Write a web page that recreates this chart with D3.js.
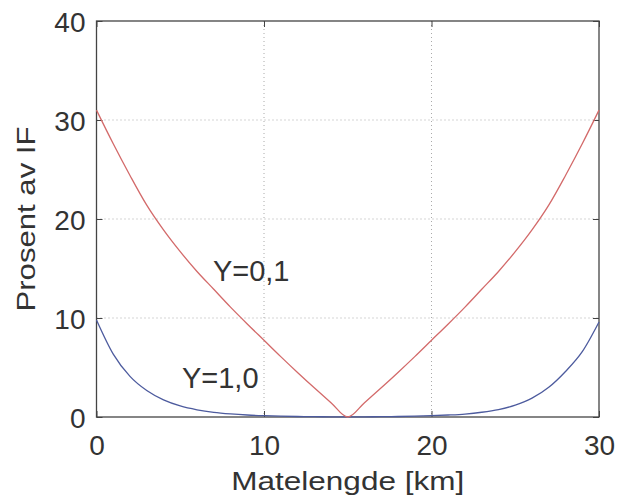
<!DOCTYPE html>
<html>
<head>
<meta charset="utf-8">
<script src="https://cdn.jsdelivr.net/npm/d3@7"></script>
<style>
  body { margin: 0; background: #fff; }
  text { font-family: "Liberation Sans", Arial, sans-serif; fill: #333; }
</style>
</head>
<body>
<div id="chart"></div>
<script>
// distance along the feeder, km
var km = [0, 1, 2, 3, 4, 5, 6, 7, 8, 9, 10, 11, 12, 13, 14, 15,
          16, 17, 18, 19, 20, 21, 22, 23, 24, 25, 26, 27, 28, 29, 30];
// Y=0,1 (red)
var pctY01 = [31, 27.6, 24.4, 21.4, 18.9, 16.7, 14.7, 12.9, 11.1, 9.4, 7.75, 6.1, 4.5, 2.95, 1.45, 0,
              1.45, 2.95, 4.5, 6.1, 7.75, 9.4, 11.1, 12.9, 14.7, 16.7, 18.9, 21.4, 24.4, 27.6, 31];
// Y=1,0 (blue)
var pctY10 = [9.8, 6.35, 4.1, 2.67, 1.73, 1.12, 0.73, 0.47, 0.31, 0.2, 0.13, 0.08, 0.05, 0.03, 0.02, 0.01,
              0.02, 0.03, 0.05, 0.08, 0.13, 0.2, 0.3, 0.48, 0.75, 1.2, 1.9, 3.0, 4.6, 6.6, 9.6];
var xTicks = [0, 10, 20, 30],
    yTicks = [0, 10, 20, 30, 40];
var labels = [
    { text: "Y=0,1", x: 6.95, y: 13.7 },
    { text: "Y=1,0", x: 5.1, y: 2.9 }
];

var W = 633, H = 504,
    margin = { top: 21, right: 34, bottom: 87, left: 96.5 },
    width = W - margin.left - margin.right,
    height = H - margin.top - margin.bottom;

var svg = d3.select("#chart").append("svg")
    .attr("width", W)
    .attr("height", H)
    .append("g")
    .attr("transform", "translate(" + margin.left + "," + margin.top + ")");

var x = d3.scaleLinear().domain([0, 30]).range([0, width]),
    y = d3.scaleLinear().domain([0, 40]).range([height, 0]);

// dotted grid
svg.append("g").selectAll("line.gx")
    .data(xTicks.slice(1, -1)).enter().append("line")
    .attr("x1", x).attr("x2", x)
    .attr("y1", 0).attr("y2", height)
    .attr("stroke", "#aaa").attr("stroke-dasharray", "1,3");
svg.append("g").selectAll("line.gy")
    .data(yTicks.slice(1, -1)).enter().append("line")
    .attr("y1", y).attr("y2", y)
    .attr("x1", 0).attr("x2", width)
    .attr("stroke", "#aaa").attr("stroke-dasharray", "1,3");

// axes with inward ticks (matlab style)
var tickLen = 6;
var xAxis = svg.append("g")
    .attr("transform", "translate(0," + height + ")")
    .call(d3.axisBottom(x).tickValues(xTicks).tickSizeInner(-tickLen).tickSizeOuter(0));
xAxis.selectAll("text").attr("y", 38).attr("dy", 0).style("font-size", "28px");

var yAxis = svg.append("g")
    .call(d3.axisLeft(y).tickValues(yTicks).tickSizeInner(-tickLen).tickSizeOuter(0));
yAxis.selectAll("text").attr("x", -11).attr("dy", "0.36em").style("font-size", "28px");

svg.append("g")
    .call(d3.axisTop(x).tickValues(xTicks).tickSizeInner(-tickLen).tickSizeOuter(0).tickFormat(""));
svg.append("g")
    .attr("transform", "translate(" + width + ",0)")
    .call(d3.axisRight(y).tickValues(yTicks).tickSizeInner(-tickLen).tickSizeOuter(0).tickFormat(""));

svg.selectAll(".domain").remove();
svg.selectAll(".tick line").attr("stroke", "#444");

svg.append("rect")
    .attr("width", width).attr("height", height)
    .attr("fill", "none").attr("stroke", "#444").attr("stroke-width", 1.3);

// curves
var line = function (vals) {
    return d3.line()
        .x(function (d, i) { return x(km[i]); })
        .y(function (d) { return y(d); })
        .curve(d3.curveMonotoneX)(vals);
};
svg.append("path").attr("d", line(pctY10))
    .attr("fill", "none").attr("stroke", "#4d5b9e").attr("stroke-width", 1.3);
svg.append("path").attr("d", line(pctY01))
    .attr("fill", "none").attr("stroke", "#d36a6a").attr("stroke-width", 1.3);

svg.selectAll("text.lbl")
    .data(labels).enter().append("text")
    .attr("class", "lbl")
    .attr("x", function (d) { return x(d.x); })
    .attr("y", function (d) { return y(d.y); })
    .style("font-size", "29px")
    .text(function (d) { return d.text; });

// axis titles
svg.append("text")
    .attr("x", width / 2).attr("y", height + 73)
    .attr("text-anchor", "middle")
    .attr("textLength", 233).attr("lengthAdjust", "spacingAndGlyphs")
    .style("font-size", "26px")
    .text("Matelengde [km]");

svg.append("text")
    .attr("transform", "translate(" + (35 - margin.left) + "," + (height / 2) + ") rotate(-90)")
    .attr("text-anchor", "middle")
    .attr("textLength", 185).attr("lengthAdjust", "spacingAndGlyphs")
    .style("font-size", "25px")
    .text("Prosent av IF");
</script>
</body>
</html>
